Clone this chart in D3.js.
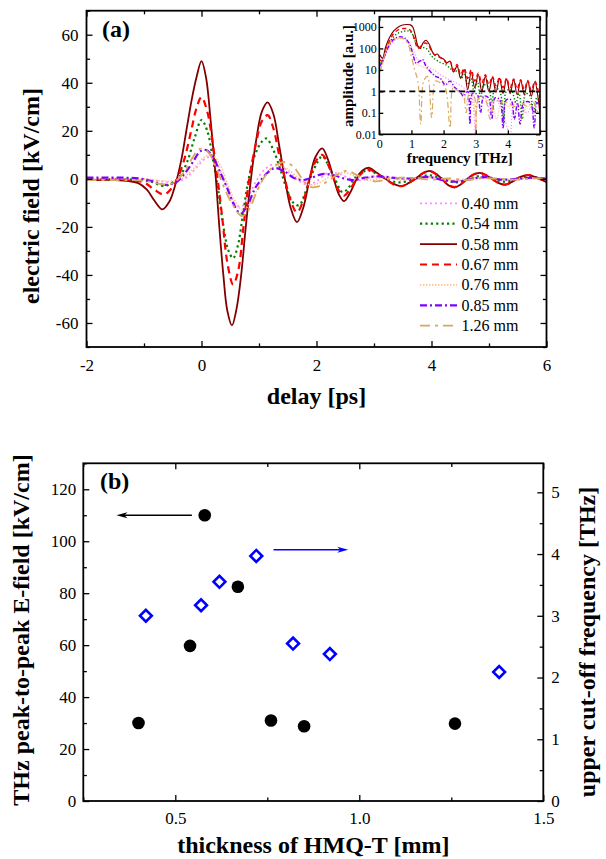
<!DOCTYPE html>
<html>
<head>
<meta charset="utf-8">
<script src="https://cdn.jsdelivr.net/npm/d3@7"></script>
<style>
body{margin:0;background:#fff;}
svg text{font-family:"Liberation Serif","Times New Roman",serif;fill:#000;}
.domain{display:none;}
.tick line{stroke:#000;stroke-width:1.3;}
.lbl{font-weight:bold;}
</style>
</head>
<body>
<svg width="606" height="859"></svg>
<script>
// ---------------- data ----------------
const thicknessLabels = ["0.40 mm","0.54 mm","0.58 mm","0.67 mm","0.76 mm","0.85 mm","1.26 mm"];

// time traces [delay ps, field kV/cm]
const field040 = [[-2,0],[-1,0],[-0.7,-1],[-0.5,-1.5],[-0.3,0],[-0.15,3],[0,7],[0.12,9],[0.25,7],[0.38,0],[0.5,-7],[0.6,-11],[0.7,-11.5],[0.8,-8],[0.95,-1],[1.1,4],[1.25,6],[1.4,5],[1.55,2],[1.7,-1],[1.85,-2.5],[2.0,-1],[2.2,2.5],[2.4,2],[2.6,0],[2.8,-0.5],[3.0,1],[3.3,0.5],[3.6,-0.3],[3.9,0.8],[4.2,0],[4.5,-0.8],[4.8,0.5],[5.1,0],[5.4,-0.3],[5.7,0.3],[6,0]];
const field054 = [[-2,-0.3],[-1.2,-0.3],[-0.9,-1],[-0.65,-3],[-0.5,-1.5],[-0.38,1],[-0.25,7],[-0.12,17],[0,24.5],[0.1,20],[0.2,8],[0.28,-3],[0.37,-18],[0.47,-30],[0.55,-33],[0.63,-28],[0.72,-15],[0.82,0],[0.93,10],[1.05,15.5],[1.13,16.8],[1.25,12],[1.37,4],[1.48,-4],[1.6,-10],[1.7,-11],[1.8,-6],[1.92,2],[2.02,7],[2.1,9.5],[2.2,6],[2.32,0],[2.45,-5.5],[2.55,-4],[2.65,0],[2.78,2.5],[2.9,3.5],[3.05,2],[3.2,0],[3.45,-1.5],[3.7,0],[3.95,1.5],[4.2,0],[4.42,-1.5],[4.65,0],[4.85,1.2],[5.05,0],[5.28,-1.2],[5.5,0],[5.7,1],[5.9,0],[6,-0.3]];
const field058 = [[-2,-0.5],[-1.6,-0.4],[-1.3,-0.8],[-1.1,-1.8],[-0.95,-4.5],[-0.82,-9],[-0.68,-12.7],[-0.56,-9.5],[-0.45,-2],[-0.35,8],[-0.25,22],[-0.17,33],[-0.09,42],[0,49],[0.08,42],[0.16,24],[0.25,0],[0.31,-20],[0.38,-40],[0.45,-55],[0.53,-61],[0.61,-54],[0.69,-40],[0.77,-20],[0.86,0],[0.95,16],[1.05,28],[1.15,31.8],[1.25,27],[1.35,14],[1.45,0],[1.55,-12],[1.66,-18],[1.77,-12],[1.88,0],[1.98,9],[2.1,12.7],[2.2,8],[2.3,0],[2.39,-6.5],[2.48,-9.3],[2.58,-6],[2.7,0],[2.8,3.5],[2.92,4.6],[3.05,2.5],[3.2,0],[3.35,-2.2],[3.48,-3],[3.6,-1.8],[3.72,0],[3.85,2.3],[3.97,3.3],[4.08,2],[4.18,0],[4.3,-2.8],[4.4,-3.6],[4.5,-2.5],[4.62,0],[4.73,1.8],[4.84,2.5],[4.95,1.5],[5.05,0],[5.17,-1.8],[5.28,-2.4],[5.38,-1.5],[5.48,0],[5.6,1.2],[5.7,1.5],[5.8,0.8],[5.88,0],[6,-1.4]];
const field067 = [[-2,-0.3],[-1.3,-0.5],[-1.0,-1.5],[-0.82,-4.5],[-0.65,-6.5],[-0.52,-4],[-0.42,0],[-0.3,8],[-0.18,20],[-0.08,30],[0.0,34],[0.1,28],[0.2,14],[0.28,0],[0.36,-16],[0.45,-35],[0.55,-44],[0.64,-38],[0.73,-20],[0.83,0],[0.95,15],[1.05,24],[1.15,26.5],[1.25,21],[1.35,10],[1.45,0],[1.55,-9],[1.66,-14],[1.77,-9],[1.88,0],[1.98,7],[2.1,10],[2.2,6],[2.3,0],[2.39,-5],[2.48,-7],[2.58,-4.5],[2.7,0],[2.82,3],[2.93,3.8],[3.05,2],[3.2,0],[3.35,-2.4],[3.48,-3],[3.6,-1.8],[3.72,0],[3.85,2.3],[3.97,3.2],[4.08,2],[4.18,0],[4.3,-2.6],[4.4,-3.4],[4.5,-2.3],[4.62,0],[4.73,1.8],[4.84,2.5],[4.95,1.5],[5.05,0],[5.17,-1.8],[5.28,-2.4],[5.38,-1.5],[5.48,0],[5.6,1.2],[5.7,1.6],[5.8,0.8],[5.88,0],[6,-0.8]];
const field076 = [[-2,0],[-1,0],[-0.6,-1],[-0.35,0],[-0.15,4],[0.05,9],[0.18,10],[0.32,6],[0.45,-2],[0.6,-10],[0.72,-13],[0.85,-10],[1.0,-3],[1.15,3],[1.32,5.5],[1.5,4],[1.7,0],[1.9,-2.5],[2.1,-1],[2.3,2],[2.5,2.5],[2.7,1],[2.9,-0.5],[3.2,0.5],[3.5,-0.5],[3.8,0.5],[4.1,0],[4.4,-0.7],[4.7,0.3],[5.0,0.2],[5.3,-0.3],[5.6,0.2],[6,0]];
const field085 = [[-2,0.5],[-1.5,0.5],[-1.1,0.2],[-0.85,-1],[-0.65,-2.5],[-0.45,-1.5],[-0.3,2],[-0.15,7],[-0.02,11.5],[0.08,12],[0.2,9],[0.32,3],[0.45,-4],[0.57,-11],[0.68,-14.5],[0.8,-11],[0.93,-4],[1.05,0],[1.17,3],[1.28,4.5],[1.45,3],[1.6,0.5],[1.75,-0.5],[1.9,0.3],[2.1,2],[2.3,1.5],[2.5,0],[2.65,-0.5],[2.85,0.5],[3.1,1],[3.4,0.3],[3.7,0.2],[3.95,0.8],[4.2,-0.5],[4.45,-1.2],[4.7,0],[4.95,0.7],[5.2,-0.3],[5.5,0],[5.75,0.5],[6,0]];
const field126 = [[-2,-0.5],[-1.5,-0.5],[-1.0,-0.8],[-0.75,-2],[-0.6,-2.5],[-0.45,-1],[-0.3,3],[-0.15,9],[-0.03,12.5],[0.1,11.5],[0.25,5],[0.4,-4],[0.55,-11],[0.7,-15.5],[0.82,-13],[0.95,-6],[1.1,1],[1.25,5],[1.45,7],[1.6,5],[1.75,0],[1.88,-3.3],[2.05,-3],[2.25,0],[2.45,3],[2.55,3.3],[2.75,1],[3.0,-1],[3.2,-0.5],[3.45,0.5],[3.7,0.3],[4.0,-0.3],[4.3,0.2],[4.6,-0.5],[4.9,0.3],[5.2,0],[5.5,-0.3],[5.8,0.2],[6,0]];

// spectra [frequency THz, amplitude a.u.]
const spec040 = [[0.02,10],[0.1,20],[0.2,50],[0.35,150],[0.5,250],[0.7,300],[0.85,250],[1.0,120],[1.1,60],[1.2,30],[1.35,25],[1.5,15],[1.7,10],[1.9,6],[2.1,4],[2.3,3],[2.5,2],[2.7,1.2],[2.85,0.8],[3.0,0.01],[3.1,0.6],[3.3,0.5],[3.45,0.1],[3.55,0.4],[3.7,0.3],[3.9,0.05],[4.07,0.01],[4.2,0.3],[4.4,0.2],[4.6,0.1],[4.75,0.2],[4.9,0.1],[5,0.1]];
const spec054 = [[0.02,20],[0.1,30],[0.2,70],[0.33,200],[0.5,420],[0.7,600],[0.9,650],[1.0,550],[1.1,250],[1.2,120],[1.3,100],[1.4,110],[1.5,90],[1.6,50],[1.75,30],[1.9,22],[2.05,18],[2.2,12],[2.35,8],[2.45,10],[2.55,4],[2.65,6],[2.75,2],[2.85,4],[2.95,1],[3.05,3],[3.15,0.5],[3.25,2],[3.4,1.5],[3.5,0.3],[3.6,1.5],[3.75,1],[3.88,0.03],[3.95,1],[4.1,1.2],[4.25,0.3],[4.35,0.8],[4.45,0.05],[4.55,0.8],[4.7,0.6],[4.8,0.1],[4.9,0.5],[5,0.3]];
const spec058 = [[0.02,50],[0.1,35],[0.2,120],[0.33,350],[0.45,650],[0.55,900],[0.7,1200],[0.85,1300],[0.97,1250],[1.05,950],[1.12,400],[1.2,130],[1.27,100],[1.36,180],[1.45,240],[1.55,160],[1.65,70],[1.72,50],[1.8,55],[1.9,38],[2.0,32],[2.1,22],[2.2,25],[2.31,8],[2.42,15],[2.53,4],[2.64,10],[2.75,1.2],[2.86,8],[2.97,1.5],[3.08,6],[3.19,1],[3.3,5],[3.41,1],[3.52,4.5],[3.63,0.9],[3.74,4],[3.85,0.8],[3.96,3.8],[4.07,0.8],[4.18,3.5],[4.29,0.7],[4.4,3.3],[4.51,0.7],[4.62,3],[4.73,0.6],[4.84,2.8],[4.95,0.4],[5,0.08]];
const spec067 = [[0.02,30],[0.1,25],[0.2,80],[0.33,250],[0.45,500],[0.6,750],[0.75,850],[0.9,800],[1.0,600],[1.1,250],[1.2,100],[1.3,130],[1.42,180],[1.52,150],[1.62,80],[1.75,45],[1.85,40],[2.0,30],[2.1,20],[2.2,25],[2.31,10],[2.42,18],[2.53,6],[2.64,12],[2.75,4],[2.86,10],[2.97,3],[3.08,7],[3.19,2.5],[3.3,6],[3.41,2],[3.52,5],[3.63,1.8],[3.74,4.5],[3.85,1.5],[3.96,4],[4.07,1.5],[4.18,3.8],[4.29,1.3],[4.4,3.5],[4.51,1.2],[4.62,3.2],[4.73,1.1],[4.84,3],[4.95,1],[5,0.5]];
const spec076 = [[0.02,10],[0.1,20],[0.2,60],[0.35,170],[0.5,260],[0.65,300],[0.8,260],[0.95,130],[1.05,50],[1.15,20],[1.3,15],[1.45,12],[1.6,8],[1.8,5],[2.0,3],[2.2,2],[2.4,1.2],[2.6,1],[2.75,0.3],[2.9,0.8],[3.0,0.02],[3.1,0.6],[3.3,0.4],[3.5,0.3],[3.65,0.05],[3.8,0.3],[4.0,0.2],[4.2,0.25],[4.4,0.05],[4.6,0.2],[4.8,0.15],[5,0.1]];
const spec085 = [[0.02,15],[0.1,25],[0.2,60],[0.35,180],[0.5,300],[0.65,350],[0.8,300],[0.95,150],[1.05,50],[1.15,20],[1.25,25],[1.35,30],[1.45,15],[1.6,8],[1.75,5],[1.9,4],[2.05,2],[2.2,3],[2.35,1.5],[2.5,1],[2.62,0.6],[2.75,1],[2.82,0.03],[2.9,0.8],[3.05,0.7],[3.15,0.1],[3.25,0.6],[3.4,0.5],[3.5,0.05],[3.6,0.5],[3.75,0.4],[3.85,0.02],[3.95,0.4],[4.1,0.4],[4.2,0.05],[4.3,0.3],[4.38,0.03],[4.5,0.3],[4.7,0.3],[4.82,0.02],[4.9,0.3],[5,0.2]];
const spec126 = [[0.02,8],[0.1,20],[0.2,70],[0.35,200],[0.5,300],[0.62,320],[0.75,280],[0.9,150],[1.0,40],[1.1,10],[1.2,3],[1.29,0.03],[1.38,3],[1.5,5],[1.63,0.06],[1.75,3],[1.9,2.5],[2.05,1.5],[2.2,0.02],[2.3,1.5],[2.45,1],[2.6,0.8],[2.7,0.1],[2.8,0.8],[2.95,0.6],[3.0,0.01],[3.1,0.5],[3.3,0.4],[3.45,0.05],[3.6,0.4],[3.8,0.3],[4.0,0.3],[4.2,0.2],[4.4,0.3],[4.6,0.2],[4.8,0.3],[4.95,0.1],[5,0.1]];

// panel (b)
const thickness = [0.40,0.54,0.58,0.67,0.76,0.85,1.26];
const peakToPeak = [30,59.7,110,82.5,31,28.8,29.8];
const cutoffThickness = [0.42,0.57,0.62,0.72,0.82,0.92,1.38];
const cutoffFreq = [3.0,3.17,3.55,3.97,2.55,2.38,2.09];

const fields = [field040,field054,field058,field067,field076,field085,field126];
const spectra = [spec040,spec054,spec058,spec067,spec076,spec085,spec126];

// line styles per thickness
const colors = ["#ff8cff","#008000","#800000","#ff0000","#ffc28c","#8000ff","#d8a85c"];
const dashes = ["2,3","2.2,3.2",null,"7,5","1.5,1.5","7,3,2,3","10,5,3,5"];
const widths = [1.8,2.2,1.8,2.2,1.6,2.2,1.8];

let svg = d3.select("svg");

// helper for inward ticks, major + minor
function drawAxis(tr, gen, scale, major, minor, len, pad, fmt, fs) {
    if (minor) {
        svg.append("g").attr("transform", tr)
            .call(gen(scale).tickValues(minor).tickSize(-len*0.6).tickFormat(""));
    }
    let g = svg.append("g").attr("transform", tr)
        .call(gen(scale).tickValues(major).tickSize(-len).tickPadding(pad).tickFormat(fmt || ""));
    g.selectAll("text").style("font-size", fs + "px");
    return g;
}
function odd(a, b, step) { return d3.range(a, b + 1e-9, step); }

/////////////////////////////////////////////////////////////// PANEL (a)
let xA = d3.scaleLinear().domain([-2,6]).range([86.5,546.5]),
    yA = d3.scaleLinear().domain([-70,70]).range([347,10.7]);

svg.append("clipPath").attr("id","clipA").append("rect")
    .attr("x", xA(-2)).attr("y", yA(70)).attr("width", xA(6)-xA(-2)).attr("height", yA(-70)-yA(70));

let lineA = d3.line().x(d=>xA(d[0])).y(d=>yA(d[1])).curve(d3.curveCatmullRom.alpha(0.5));

svg.append("g").attr("clip-path","url(#clipA)")
    .selectAll("path").data(fields).enter().append("path")
    .attr("d", lineA)
    .attr("fill","none")
    .attr("stroke", (d,i)=>colors[i])
    .attr("stroke-width", (d,i)=>widths[i])
    .attr("stroke-dasharray", (d,i)=>dashes[i]);

drawAxis("translate(0," + yA(-70) + ")", d3.axisBottom, xA, [-2,0,2,4,6], odd(-1,5,2), 6, 12, d=>String(d), 17);
drawAxis("translate(0," + yA(70) + ")", d3.axisTop, xA, [-2,0,2,4,6], odd(-1,5,2), 6, 0, null, 17);
drawAxis("translate(" + xA(-2) + ",0)", d3.axisLeft, yA, [-60,-40,-20,0,20,40,60], odd(-70,70,20), 6, 8, d=>String(d), 17);
drawAxis("translate(" + xA(6) + ",0)", d3.axisRight, yA, [-60,-40,-20,0,20,40,60], odd(-70,70,20), 6, 0, null, 17);

svg.append("rect")
    .attr("x", xA(-2)).attr("y", yA(70)).attr("width", xA(6)-xA(-2)).attr("height", yA(-70)-yA(70))
    .attr("fill","none").attr("stroke","#000").attr("stroke-width",1.8);

svg.append("text").attr("class","lbl").attr("x",102).attr("y",37).style("font-size","24px").text("(a)");
svg.append("text").attr("class","lbl").attr("text-anchor","middle")
    .attr("x", (xA(-2)+xA(6))/2).attr("y",404).style("font-size","24px").text("delay [ps]");
svg.append("text").attr("class","lbl").attr("text-anchor","middle")
    .attr("transform","translate(39,196) rotate(-90)").style("font-size","24px").text("electric field [kV/cm]");

//// legend
let legend = svg.append("g").selectAll("g").data(thicknessLabels).enter().append("g")
    .attr("transform", (d,i)=>"translate(0," + (203.3 + i*20.4) + ")");
legend.append("line").attr("x1",420).attr("x2",457)
    .attr("stroke", (d,i)=>colors[i])
    .attr("stroke-width", (d,i)=>widths[i])
    .attr("stroke-dasharray", (d,i)=>dashes[i]);
legend.append("text").attr("x",461.5).attr("y",5.5).style("font-size","16px").text(d=>d);

//////////////////////////////////////////////////////////////// INSET
let xI = d3.scaleLinear().domain([0,5]).range([379.3,540]),
    yI = d3.scaleLog().domain([0.01,3000]).range([134.3,16.7]);

svg.append("rect").attr("x",xI(0)).attr("y",yI(3000)).attr("width",xI(5)-xI(0)).attr("height",yI(0.01)-yI(3000))
    .attr("fill","#fff");
svg.append("clipPath").attr("id","clipI").append("rect")
    .attr("x",xI(0)).attr("y",yI(3000)).attr("width",xI(5)-xI(0)).attr("height",yI(0.01)-yI(3000));

let lineI = d3.line().x(d=>xI(d[0])).y(d=>yI(d[1])).curve(d3.curveCatmullRom.alpha(0.5));
let inset = svg.append("g").attr("clip-path","url(#clipI)");
inset.selectAll("path").data(spectra).enter().append("path")
    .attr("d", lineI)
    .attr("fill","none")
    .attr("stroke", (d,i)=>colors[i])
    .attr("stroke-width", (d,i)=>widths[i]*0.65)
    .attr("stroke-dasharray", (d,i)=>dashes[i] ? dashes[i].split(",").map(v=>v*0.6).join(",") : null);
inset.append("line").attr("x1",xI(0)).attr("x2",xI(5)).attr("y1",yI(1)).attr("y2",yI(1))
    .attr("stroke","#000").attr("stroke-width",1.8).attr("stroke-dasharray","6,4");

let decades = [0.01,0.1,1,10,100,1000];
drawAxis("translate(0," + yI(0.01) + ")", d3.axisBottom, xI, [0,1,2,3,4,5], null, 4, 5, d=>String(d), 12);
drawAxis("translate(0," + yI(3000) + ")", d3.axisTop, xI, [0,1,2,3,4,5], null, 4, 0, null, 12);
drawAxis("translate(" + xI(0) + ",0)", d3.axisLeft, yI, decades, null, 4, 2.5, d=>String(d), 12);
drawAxis("translate(" + xI(5) + ",0)", d3.axisRight, yI, decades, null, 4, 0, null, 12);
svg.append("rect").attr("x",xI(0)).attr("y",yI(3000)).attr("width",xI(5)-xI(0)).attr("height",yI(0.01)-yI(3000))
    .attr("fill","none").attr("stroke","#000").attr("stroke-width",1.6);

svg.append("text").attr("class","lbl").attr("text-anchor","middle")
    .attr("x",(xI(0)+xI(5))/2).attr("y",163).style("font-size","15px").text("frequency [THz]");
svg.append("text").attr("class","lbl").attr("text-anchor","middle")
    .attr("transform","translate(353,76) rotate(-90)").style("font-size","15px").text("amplitude [a.u.]");

/////////////////////////////////////////////////////////////// PANEL (b)
let xB = d3.scaleLinear().domain([0.25,1.5]).range([83.3,543.3]),
    yB = d3.scaleLinear().domain([0,130]).range([801,463.3]),
    yB2 = d3.scaleLinear().domain([0,5.47]).range([801,463.3]);

drawAxis("translate(0," + yB(0) + ")", d3.axisBottom, xB, [0.5,1.0,1.5], [0.25,0.75,1.25], 6, 11, d3.format(".1f"), 17);
drawAxis("translate(0," + yB(130) + ")", d3.axisTop, xB, [0.5,1.0,1.5], [0.25,0.75,1.25], 6, 0, null, 17);
drawAxis("translate(" + xB(0.25) + ",0)", d3.axisLeft, yB, odd(0,120,20), odd(10,130,20), 6, 7, d=>String(d), 17);
drawAxis("translate(" + xB(1.5) + ",0)", d3.axisRight, yB2, [0,1,2,3,4,5], odd(0.5,5,1), 6, 8, d=>String(d), 17);

svg.append("rect")
    .attr("x", xB(0.25)).attr("y", yB(130)).attr("width", xB(1.5)-xB(0.25)).attr("height", yB(0)-yB(130))
    .attr("fill","none").attr("stroke","#000").attr("stroke-width",1.8);

// peak-to-peak field (left axis)
svg.append("g").selectAll("circle").data(thickness).enter().append("circle")
    .attr("cx", d=>xB(d))
    .attr("cy", (d,i)=>yB(peakToPeak[i]))
    .attr("r", 6.3)
    .attr("fill","#000");

// cut-off frequency (right axis)
svg.append("g").selectAll("path").data(cutoffThickness).enter().append("path")
    .attr("d", d3.symbol(d3.symbolSquare, 70))
    .attr("transform", (d,i)=>"translate(" + xB(d) + "," + yB2(cutoffFreq[i]) + ") rotate(45)")
    .attr("fill","none")
    .attr("stroke","#0000ff")
    .attr("stroke-width",2.6);

// arrows pointing to the axes
function arrow(x1, x2, y, color) {
    let dir = x2 > x1 ? 1 : -1;
    svg.append("line").attr("x1",x1).attr("x2",x2 - dir*6).attr("y1",y).attr("y2",y)
        .attr("stroke",color).attr("stroke-width",1.6);
    svg.append("path")
        .attr("d", "M" + x2 + "," + y + "L" + (x2 - dir*11) + "," + (y-3) + "L" + (x2 - dir*8) + "," + y + "L" + (x2 - dir*11) + "," + (y+3) + "Z")
        .attr("fill",color);
}
arrow(xB(0.545), xB(0.34), yB(110), "#000");
arrow(xB(0.767), xB(0.97), yB2(4.07), "#0000ff");

svg.append("text").attr("class","lbl").attr("x",100).attr("y",489).style("font-size","24px").text("(b)");
svg.append("text").attr("class","lbl").attr("text-anchor","middle")
    .attr("x",(xB(0.25)+xB(1.5))/2).attr("y",853).style("font-size","24px").text("thickness of HMQ-T [mm]");
svg.append("text").attr("class","lbl").attr("text-anchor","middle")
    .attr("transform","translate(29,630) rotate(-90)").style("font-size","24px").text("THz peak-to-peak E-field [kV/cm]");
svg.append("text").attr("class","lbl").attr("text-anchor","middle")
    .attr("transform","translate(595,642) rotate(-90)").style("font-size","24px").text("upper cut-off frequency [THz]");
</script>
</body>
</html>
